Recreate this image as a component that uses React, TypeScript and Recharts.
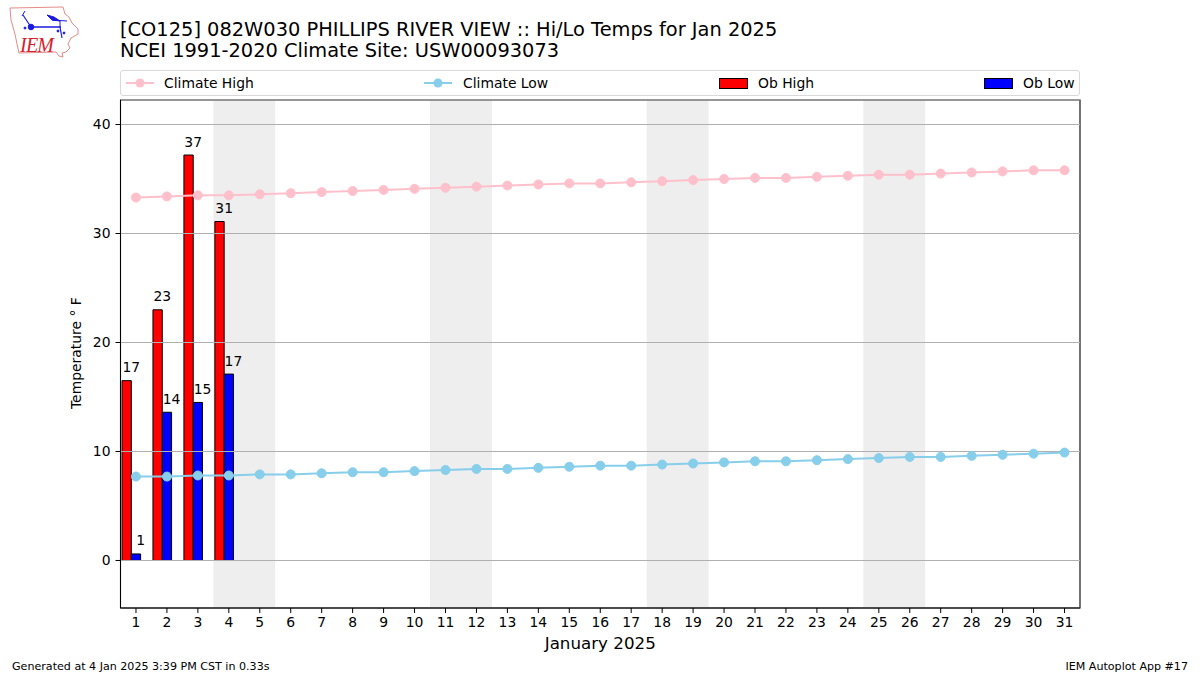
import React from 'react';
import {
  ComposedChart, Bar, Line, XAxis, YAxis, CartesianGrid, ReferenceArea, LabelList, Legend,
} from 'recharts';

const days = Array.from({ length: 31 }, (_, i) => i + 1);
const climateHigh = [33.3, 33.4, 33.5, 33.5, 33.6, 33.7, 33.8, 33.9, 34.0, 34.1, 34.2, 34.3, 34.4, 34.5, 34.6, 34.6, 34.7, 34.8, 34.9, 35.0, 35.1, 35.1, 35.2, 35.3, 35.4, 35.4, 35.5, 35.6, 35.7, 35.8, 35.8];
const climateLow = [7.7, 7.7, 7.8, 7.8, 7.9, 7.9, 8.0, 8.1, 8.1, 8.2, 8.3, 8.4, 8.4, 8.5, 8.6, 8.7, 8.7, 8.8, 8.9, 9.0, 9.1, 9.1, 9.2, 9.3, 9.4, 9.5, 9.5, 9.6, 9.7, 9.8, 9.9];
const obHigh = [16.5, 23, 37.2, 31.1];
const obLow = [0.6, 13.6, 14.5, 17.1];
const weekends = [[3.5, 5.5], [10.5, 12.5], [17.5, 19.5], [24.5, 26.5]];
const yTicks = [0, 10, 20, 30, 40];

const data = days.map((day, i) => ({
  day,
  climateHigh: climateHigh[i],
  climateLow: climateLow[i],
  obHigh: obHigh[i],
  obLow: obLow[i],
}));

const FONT = '"DejaVu Sans", sans-serif';
const xDomain: [number, number] = [0.5, 31.5];
const yDomain: [number, number] = [-4.36, 42.25];

// matplotlib puts the bars left of the tick, so they get their own shifted axis
const barDomain: [number, number] = [0.645, 31.645];

const BarLabel = (props: any) => {
  const { x, y, width, value } = props;
  if (value == null) return null;
  return (
    <text x={x + width} y={y - 8.5} textAnchor="middle" fontFamily={FONT} fontSize={13.9} fill="#000">
      {Math.round(value)}
    </text>
  );
};

const LineKey = ({ color }: { color: string }) => (
  <svg width={28} height={12} style={{ display: 'block' }}>
    <line x1={0} y1={6} x2={28} y2={6} stroke={color} strokeWidth={2} />
    <circle cx={14} cy={6} r={4.5} fill={color} />
  </svg>
);

const PatchKey = ({ color }: { color: string }) => (
  <div style={{ width: 27, height: 9, background: color, border: '1px solid #000' }} />
);

const legendItems = [
  { label: 'Climate High', left: 5, gap: 10, key: <LineKey color="pink" /> },
  { label: 'Climate Low', left: 303, gap: 11, key: <LineKey color="skyblue" /> },
  { label: 'Ob High', left: 598, gap: 11, key: <PatchKey color="red" /> },
  { label: 'Ob Low', left: 863, gap: 11, key: <PatchKey color="blue" /> },
];

const LegendBox = () => (
  <div style={{ position: 'relative', width: 958, height: 24, border: '1px solid #d9d9d9', borderRadius: 3, background: '#fff', fontFamily: FONT, fontSize: 13.9, color: '#000' }}>
    {legendItems.map(item => (
      <div key={item.label} style={{ position: 'absolute', left: item.left, top: 0, height: 24, display: 'flex', alignItems: 'center', whiteSpace: 'nowrap' }}>
        <div style={{ width: 28, marginRight: item.gap }}>{item.key}</div>
        <span>{item.label}</span>
      </div>
    ))}
  </div>
);

const Logo = () => (
  <svg width={90} height={62} style={{ position: 'absolute', left: 0, top: 0 }}>
    <path d="M10 8 L63 7 L65 14 L69 17 L72 23 L78 29 L78 34 L71 38 L68 44 L70 48 L66 52 L62 53 L63 57 L59 56 L56 52 L19 53 L17 44 L15 34 L11 20 Z" fill="none" stroke="#e58a8a" strokeWidth={1} />
    <g stroke="#1a1ae0" fill="#1a1ae0">
      <line x1={31} y1={27} x2={61} y2={27} strokeWidth={1.5} />
      <circle cx={31} cy={27} r={2.8} />
      <line x1={31} y1={27} x2={23} y2={15} strokeWidth={1.2} />
      <line x1={22} y1={16} x2={25} y2={11} strokeWidth={1} />
      <path d="M47 15 L54 17 L60 21 L52 20 Z" />
      <line x1={52} y1={20} x2={67} y2={21} strokeWidth={1} />
      <line x1={60} y1={21} x2={60} y2={27} strokeWidth={1} />
      <line x1={60} y1={27} x2={62} y2={38} strokeWidth={1.2} />
      <circle cx={25} cy={28} r={1} />
      <circle cx={58} cy={31} r={1} />
      <circle cx={64} cy={33} r={1} />
    </g>
    <text x={20} y={52} fontFamily='"Liberation Serif", serif' fontStyle="italic" fontSize={20} fill="#d8202a" textLength={34}>IEM</text>
  </svg>
);

const App: React.FC = () => {
  return (
    <div style={{ position: 'absolute', left: 0, top: 0, width: 1200, height: 675, background: '#fff', overflow: 'hidden' }}>
      <Logo />
      <div style={{ position: 'absolute', left: 120, top: 18.5, fontFamily: FONT, fontSize: 19.4, lineHeight: '21.5px', color: '#000', whiteSpace: 'nowrap' }}>
        <div>[CO125] 082W030 PHILLIPS RIVER VIEW :: Hi/Lo Temps for Jan 2025</div>
        <div>NCEI 1991-2020 Climate Site: USW00093073</div>
      </div>
      <ComposedChart
        width={1200}
        height={675}
        data={data}
        barGap={0}
        barCategoryGap={0}
        margin={{ top: 74, right: 120, bottom: 0, left: 0 }}
      >
        <Legend
          content={<LegendBox />}
          verticalAlign="top"
          wrapperStyle={{ position: 'absolute', left: 120, top: 70, width: 960, height: 26 }}
        />
        {weekends.map(([start, end]) => (
          <ReferenceArea key={start} xAxisId="days" x1={start} x2={end} y1={yDomain[0]} y2={yDomain[1]} fill="#eeeeee" fillOpacity={1} stroke="none" />
        ))}
        <XAxis
          xAxisId="days"
          type="number"
          dataKey="day"
          domain={xDomain}
          ticks={days}
          interval={0}
          height={67}
          tickSize={5}
          tickMargin={4}
          allowDataOverflow
          stroke="#000"
          tick={{ fontFamily: FONT, fontSize: 13.9, fill: '#000' }}
          label={{ value: 'January 2025', position: 'insideTop', offset: 29, fontFamily: FONT, fontSize: 16.7, fill: '#000' }}
        />
        <XAxis xAxisId="bars" type="number" dataKey="day" domain={barDomain} hide height={0} allowDataOverflow />
        <YAxis
          type="number"
          domain={yDomain}
          ticks={yTicks}
          interval={0}
          width={120.5}
          tickSize={5}
          tickMargin={5}
          allowDataOverflow
          stroke="#000"
          tick={{ fontFamily: FONT, fontSize: 13.9, fill: '#000' }}
          label={{ value: 'Temperature \u00B0 F', angle: -90, position: 'insideLeft', dx: 71, dy: 55, fontFamily: FONT, fontSize: 13.9, fill: '#000' }}
        />
        <Bar xAxisId="bars" dataKey="obHigh" barSize={9.3} fill="red" stroke="#000" strokeWidth={1} isAnimationActive={false}>
          <LabelList dataKey="obHigh" content={<BarLabel />} />
        </Bar>
        <Bar xAxisId="bars" dataKey="obLow" barSize={9.3} fill="blue" stroke="#000" strokeWidth={1} isAnimationActive={false}>
          <LabelList dataKey="obLow" content={<BarLabel />} />
        </Bar>
        <CartesianGrid xAxisId="days" vertical={false} stroke="#b0b0b0" strokeWidth={1.1} {...({ zIndex: 350 } as any)} />
        <Line xAxisId="days" dataKey="climateHigh" stroke="pink" strokeWidth={2} dot={{ r: 4.5, fill: 'pink', stroke: 'pink', strokeWidth: 1 }} isAnimationActive={false} />
        <Line xAxisId="days" dataKey="climateLow" stroke="skyblue" strokeWidth={2} dot={{ r: 4.5, fill: 'skyblue', stroke: 'skyblue', strokeWidth: 1 }} isAnimationActive={false} />
        <ReferenceArea xAxisId="days" x1={xDomain[0]} x2={xDomain[1]} y1={yDomain[0]} y2={yDomain[1]} fill="none" stroke="#000" strokeWidth={1.1} />
      </ComposedChart>
      <div style={{ position: 'absolute', left: 12, top: 660, fontFamily: FONT, fontSize: 11.1, color: '#000', whiteSpace: 'nowrap' }}>
        Generated at 4 Jan 2025 3:39 PM CST in 0.33s
      </div>
      <div style={{ position: 'absolute', right: 12, top: 660, fontFamily: FONT, fontSize: 11.1, color: '#000', whiteSpace: 'nowrap' }}>
        IEM Autoplot App #17
      </div>
    </div>
  );
};

export default App;
